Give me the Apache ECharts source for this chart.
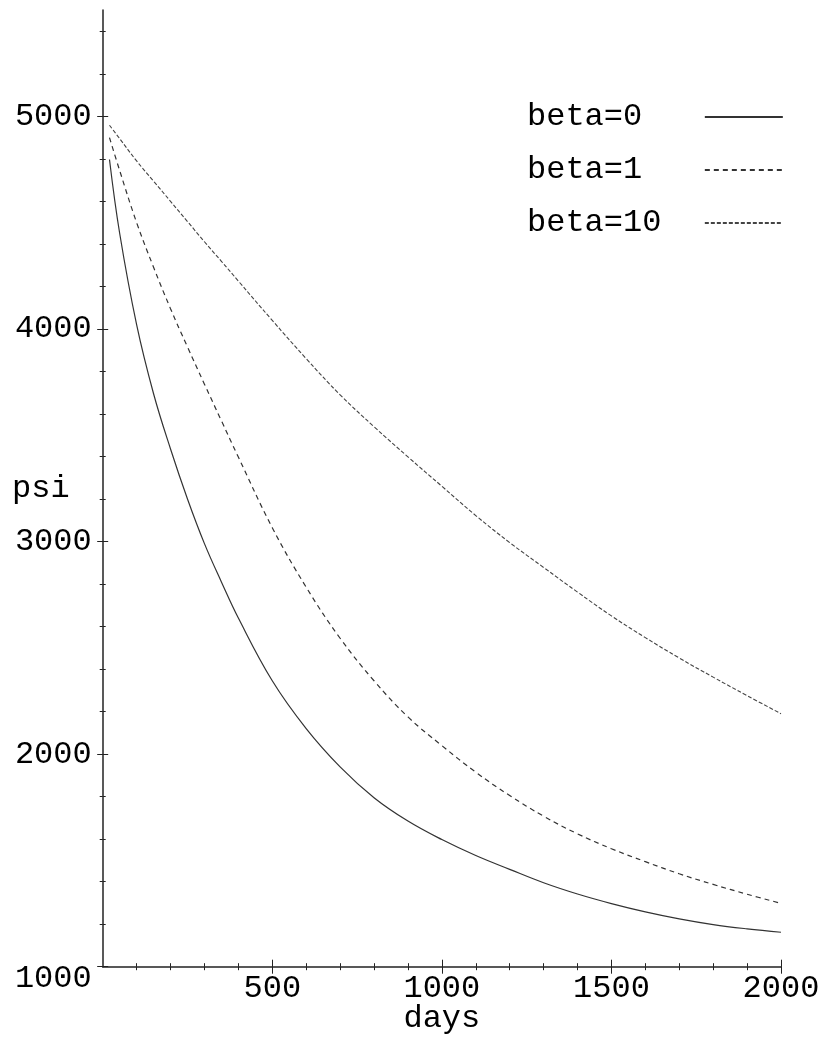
<!DOCTYPE html>
<html>
<head>
<meta charset="utf-8">
<script src="https://cdn.jsdelivr.net/npm/echarts@6/dist/echarts.min.js"></script>
<style>
  html, body { margin: 0; padding: 0; background: #fff; }
  #chart { width: 824px; height: 1038px; }
</style>
</head>
<body>
<div id="chart"></div>
<script>
// values
const days = [20, 50, 100, 150, 200, 250, 300, 350, 400, 500, 600, 700, 800, 900, 1000,
  1100, 1200, 1300, 1400, 1500, 1600, 1700, 1800, 1900, 2000];
const beta0 = [4797, 4450, 4020, 3695, 3435, 3200, 2990, 2810, 2640, 2345, 2120, 1940, 1795, 1685, 1598,
  1523, 1458, 1395, 1342, 1297, 1258, 1225, 1198, 1178, 1162];
const beta1 = [4900, 4745, 4500, 4290, 4095, 3915, 3740, 3568, 3397, 3065, 2785, 2545, 2345, 2175, 2040,
  1915, 1805, 1708, 1625, 1555, 1494, 1437, 1387, 1341, 1298];
const beta10 = [4958, 4895, 4790, 4695, 4600, 4505, 4410, 4318, 4225, 4040, 3860, 3690, 3540, 3398, 3260,
  3122, 2995, 2878, 2762, 2650, 2548, 2452, 2362, 2275, 2190];

const seriesNames = ['beta=0', 'beta=1', 'beta=10'];
const xLabels = [500, 1000, 1500, 2000];
const xMinorTicks = [100, 200, 300, 400, 500, 600, 700, 800, 900, 1000, 1100, 1200, 1300, 1400,
  1500, 1600, 1700, 1800, 1900, 2000];
const yLabels = [1000, 2000, 3000, 4000, 5000];
const yMinorTicks = [1000, 1200, 1400, 1600, 1800, 2000, 2200, 2400, 2600, 2800, 3000, 3200, 3400,
  3600, 3800, 4000, 4200, 4400, 4600, 4800, 5000, 5200, 5400];

const FONT = 'Liberation Mono';
const INK = '#222';

function pairs(ys) {
  return days.map((d, i) => [d, ys[i]]);
}

// one axis per tick set / direction so the ticks cross the axis line
function xAx(ticks, len, inside, main) {
  return {
    type: 'value', min: 0, max: 2000, position: 'bottom',
    axisLine: { show: main, onZero: false, lineStyle: { color: INK, width: 1.5 } },
    splitLine: { show: false },
    axisTick: { show: true, inside: inside, length: len, customValues: ticks, lineStyle: { color: INK, width: 1 } },
    axisLabel: main ? {
      customValues: xLabels, color: '#000', fontFamily: FONT, fontSize: 32, margin: 6,
      formatter: v => String(v)
    } : { show: false },
    name: main ? 'days' : '',
    nameLocation: 'middle', nameGap: 36, nameMoveOverlap: false,
    nameTextStyle: { color: '#000', fontFamily: FONT, fontSize: 32 }
  };
}

function yAx(ticks, len, inside, main) {
  return {
    type: 'value', min: 1000, max: 5500, position: 'left',
    axisLine: { show: main, onZero: false, lineStyle: { color: INK, width: 1.5 } },
    splitLine: { show: false },
    axisTick: { show: true, inside: inside, length: len, customValues: ticks, lineStyle: { color: INK, width: 1 } },
    axisLabel: main ? {
      customValues: yLabels, color: '#000', fontFamily: FONT, fontSize: 32, margin: 11,
      formatter: v => (v === 1000 ? '{low|1000}' : String(v)),
      rich: { low: { fontFamily: FONT, fontSize: 32, color: '#000', padding: [24, 0, 0, 0] } }
    } : { show: false },
    name: main ? 'psi' : '',
    nameLocation: 'middle', nameRotate: 0, nameGap: 33, nameMoveOverlap: false,
    nameTextStyle: { color: '#000', fontFamily: FONT, fontSize: 32, padding: [8, 0, 0, 0] }
  };
}

const chart = echarts.init(document.getElementById('chart'));
chart.setOption({
  animation: false,
  backgroundColor: '#fff',
  grid: { left: 102.7, right: 43, top: 10, bottom: 71.3, containLabel: false, outerBoundsMode: 'none' },
  legend: {
    data: seriesNames,
    orient: 'vertical', align: 'right',
    left: 527, top: 99, padding: 0,
    itemWidth: 78, itemHeight: 14, itemGap: 17,
    itemStyle: { opacity: 0 },
    formatter: n => n.padEnd(9, ' '),
    textStyle: { color: '#000', fontFamily: FONT, fontSize: 32, lineHeight: 36 }
  },
  xAxis: [
    xAx(xMinorTicks, 3.5, false, true),
    xAx(xMinorTicks, 3.5, true, false),
    xAx(xLabels, 7, false, false),
    xAx(xLabels, 7, true, false)
  ],
  yAxis: [
    yAx(yMinorTicks, 3, false, true),
    yAx(yMinorTicks, 3, true, false),
    yAx(yLabels, 5.5, false, false),
    yAx(yLabels, 5.5, true, false)
  ],
  series: [
    {
      name: 'beta=0', type: 'line', data: pairs(beta0), symbol: 'none', color: '#333',
      smooth: 0.4,
      lineStyle: { color: '#333', width: 1.2, type: 'solid' }
    },
    {
      name: 'beta=1', type: 'line', data: pairs(beta1), symbol: 'none', color: '#333',
      smooth: 0.4,
      lineStyle: { color: '#333', width: 1.2, type: [5, 4] }
    },
    {
      name: 'beta=10', type: 'line', data: pairs(beta10), symbol: 'none', color: '#444',
      smooth: 0.4,
      lineStyle: { color: '#444', width: 1.1, type: [4, 2] }
    }
  ]
});
</script>
</body>
</html>
